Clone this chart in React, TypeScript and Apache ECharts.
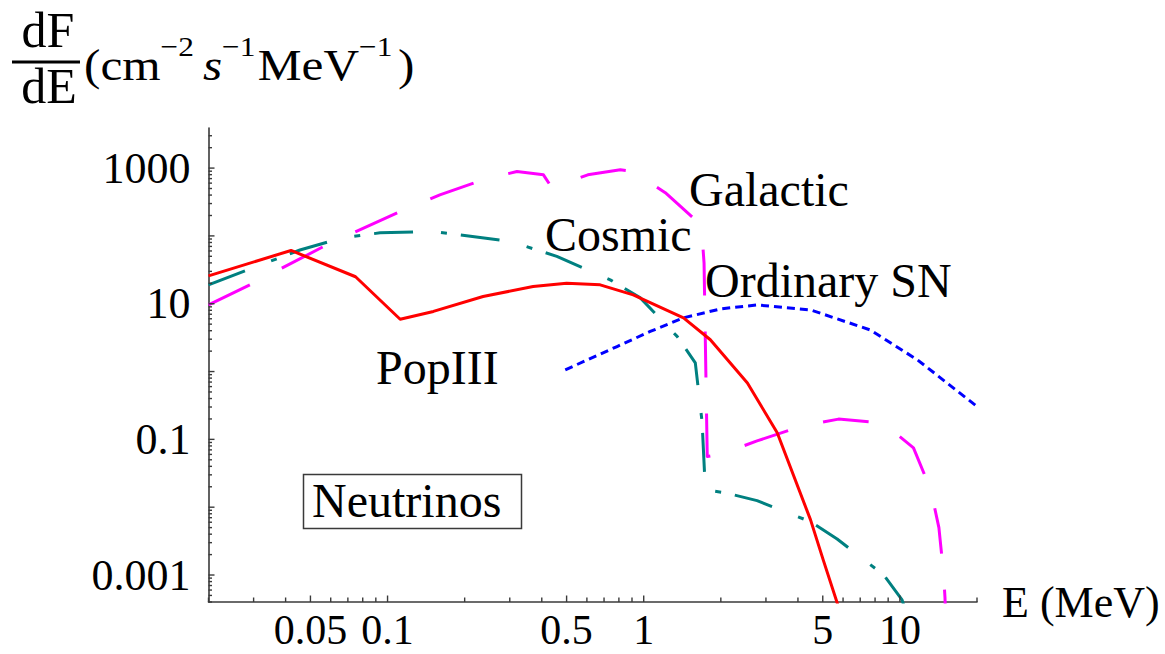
import React, { useEffect, useRef } from "react";
import * as echarts from "echarts";

const SERIF = '"Liberation Serif", "Times New Roman", "DejaVu Serif", serif';
const AXIS_COLOR = "#3a3a3a";

// Axis ranges: energy in MeV, flux in cm^-2 s^-1 MeV^-1
const X_MIN = 0.02;
const X_MAX = 20;
const Y_MIN = 4e-4;
const Y_MAX = 3900;

// Labelled tick positions
const xLabelValues = [0.05, 0.1, 0.5, 1, 5, 10];
const yLabelValues = [0.001, 0.1, 10, 1000];

// PopIII neutrino spectrum
const popIIIEnergy = [0.02, 0.042, 0.075, 0.112, 0.151, 0.236, 0.37, 0.5, 0.676, 0.91, 1.43, 1.82, 2.54, 3.32, 4.48, 5.02, 5.69, 5.8];
const popIIIFlux = [25.8, 61, 25, 5.9, 7.7, 12.8, 17.9, 20.1, 19, 13.5, 6.2, 2.94, 0.68, 0.125, 0.0065, 0.00167, 0.00039, 0.0003];

// Cosmic background
const cosmicEnergy = [0.02, 0.0455, 0.067, 0.0935, 0.151, 0.301, 0.458, 0.74, 0.97, 1.35, 1.59, 1.69, 1.74, 2.08, 2.77, 4.48, 5.69, 8.65, 10.2, 10.5];
const cosmicFlux = [19, 62, 94, 111, 116, 83, 50, 22.5, 12.2, 3.3, 1.34, 0.18, 0.018, 0.0163, 0.0125, 0.0061, 0.0034, 0.001, 0.00043, 0.0003];

// Galactic component
const galacticEnergy = [0.02, 0.029, 0.039, 0.058, 0.112, 0.16, 0.236, 0.32, 0.406, 0.439, 0.605, 0.81, 0.91, 1.214, 1.62, 1.69, 1.72, 1.77, 2.02, 2.77, 4.09, 5.76, 8.63, 11.3, 13.2, 14.2, 14.8, 15.0, 15.05];
const galacticFlux = [9.6, 19, 34, 74, 229, 403, 672, 891, 796, 507, 796, 944, 891, 433, 163, 100, 40, 0.056, 0.061, 0.095, 0.155, 0.199, 0.173, 0.075, 0.018, 0.005, 0.00107, 0.00046, 0.0003];

// Ordinary supernova neutrinos
const ordinarySNEnergy = [0.494, 0.787, 1.06, 1.43, 2.0, 2.77, 4.48, 7.67, 11.7, 19.7];
const ordinarySNFlux = [1.06, 2.34, 3.9, 6.2, 8.4, 9.6, 8.1, 4.1, 1.49, 0.32];

const zip = (xs: number[], ys: number[]) => xs.map((x, i) => [x, ys[i]]);

const fmt = (v: number) => String(Number(Number(v).toPrecision(6)));

const isLabelled = (v: number, list: number[]) =>
  list.some((l) => Math.abs(l - v) / l < 1e-6);

// Log-axis ticks at k * 10^n
const xTickData: number[][] = [];
for (let e = -2; e <= 1; e++) {
  for (let k = 1; k <= 9; k++) {
    const v = Number((k * Math.pow(10, e)).toPrecision(6));
    if (v >= X_MIN * 0.999 && v <= X_MAX * 1.001) {
      xTickData.push([v, Y_MIN, k === 1 || isLabelled(v, xLabelValues) ? 6.5 : 4.5]);
    }
  }
}
const yTickData: number[][] = [];
for (let e = -4; e <= 3; e++) {
  for (let k = 1; k <= 9; k++) {
    const v = Number((k * Math.pow(10, e)).toPrecision(6));
    if (v >= Y_MIN * 0.999 && v <= Y_MAX) {
      yTickData.push([X_MIN, v, k === 1 ? 6 : 3.5]);
    }
  }
}

const lineSeries = (name: string, data: number[][], color: string, dash: number[] | "solid", z: number) => ({
  type: "line",
  name,
  data,
  showSymbol: false,
  symbol: "none",
  smooth: false,
  clip: true,
  z,
  lineStyle: { color, width: 3, type: dash, cap: "butt", join: "round" },
});

const labelText = (text: string, x: number, y: number, size = 48) => ({
  type: "text",
  x,
  y,
  z: 20,
  style: {
    text,
    fontSize: size,
    fontFamily: SERIF,
    fill: "#000",
    align: "left",
    textAlign: "left",
    verticalAlign: "middle",
    textVerticalAlign: "middle",
  },
});

const option = {
  animation: false,
  backgroundColor: "#fff",
  grid: { left: 208.5, right: 188, top: 128, bottom: 52, containLabel: false, outerBoundsMode: "none" },
  xAxis: {
    type: "log",
    logBase: 10,
    min: X_MIN,
    max: X_MAX,
    axisLine: { show: true, onZero: false, lineStyle: { color: AXIS_COLOR, width: 1.6 } },
    axisTick: { show: false },
    minorTick: { show: false },
    splitLine: { show: false },
    axisLabel: {
      customValues: xLabelValues,
      formatter: (v: number) => fmt(v),
      fontSize: 42,
      lineHeight: 34,
      fontFamily: SERIF,
      color: "#000",
      margin: 10.5,
      hideOverlap: false,
    },
    name: "E (MeV)",
    nameLocation: "end",
    nameGap: 25,
    nameTextStyle: { fontSize: 44, fontFamily: SERIF, color: "#000", padding: [0, 0, 4, 0] },
  },
  yAxis: {
    type: "log",
    logBase: 10,
    min: Y_MIN,
    max: Y_MAX,
    axisLine: { show: true, onZero: false, lineStyle: { color: AXIS_COLOR, width: 1.6 } },
    axisTick: { show: false },
    minorTick: { show: false },
    splitLine: { show: false },
    axisLabel: {
      customValues: yLabelValues,
      formatter: (v: number) => fmt(v),
      fontSize: 44,
      fontFamily: SERIF,
      color: "#000",
      margin: 18,
      hideOverlap: false,
    },
  },
  series: [
    lineSeries("Galactic", zip(galacticEnergy, galacticFlux), "#ff00ff", [46, 36], 3),
    lineSeries("Cosmic", zip(cosmicEnergy, cosmicFlux), "#008080", [39, 28, 6, 14], 4),
    lineSeries("Ordinary SN", zip(ordinarySNEnergy, ordinarySNFlux), "#0000ff", [8, 5], 5),
    lineSeries("PopIII", zip(popIIIEnergy, popIIIFlux), "#ff0000", "solid", 6),
    {
      type: "custom",
      name: "xTicks",
      silent: true,
      clip: false,
      z: 10,
      data: xTickData,
      encode: { x: 0, y: 1 },
      renderItem: (_p: any, api: any) => {
        const pt = api.coord([api.value(0), Y_MIN]);
        const len = api.value(2);
        return {
          type: "line",
          shape: { x1: pt[0], y1: pt[1], x2: pt[0], y2: pt[1] - len },
          style: { stroke: AXIS_COLOR, lineWidth: 1.4 },
        };
      },
    },
    {
      type: "custom",
      name: "yTicks",
      silent: true,
      clip: false,
      z: 10,
      data: yTickData,
      encode: { x: 0, y: 1 },
      renderItem: (_p: any, api: any) => {
        const pt = api.coord([X_MIN, api.value(1)]);
        const len = api.value(2);
        return {
          type: "line",
          shape: { x1: pt[0], y1: pt[1], x2: pt[0] + len, y2: pt[1] },
          style: { stroke: AXIS_COLOR, lineWidth: 1.4 },
        };
      },
    },
  ],
  graphic: {
    elements: [
      // dF/dE fraction
      {
        type: "text",
        x: 48,
        y: 30,
        style: {
          text: "dF",
          fontSize: 50,
          fontFamily: SERIF,
          fill: "#000",
          align: "center",
          textAlign: "center",
          verticalAlign: "middle",
          textVerticalAlign: "middle",
        },
      },
      { type: "rect", shape: { x: 12, y: 60.5, width: 68, height: 3 }, style: { fill: "#000" } },
      {
        type: "text",
        x: 49,
        y: 86,
        style: {
          text: "dE",
          fontSize: 50,
          fontFamily: SERIF,
          fill: "#000",
          align: "center",
          textAlign: "center",
          verticalAlign: "middle",
          textVerticalAlign: "middle",
        },
      },
      // unit string, slightly widened like the printed typeface
      {
        type: "text",
        x: 84,
        y: 33,
        scaleX: 1.12,
        scaleY: 1,
        style: {
          text: "{m|(cm}{s|−2}{i|s}{s|−1}{m|MeV}{s|−1}{p|)}",
          fontFamily: SERIF,
          fill: "#000",
          align: "left",
          textAlign: "left",
          verticalAlign: "top",
          textVerticalAlign: "top",
          rich: {
            m: { fontSize: 44, fontFamily: SERIF, lineHeight: 54, verticalAlign: "bottom" },
            p: { fontSize: 44, fontFamily: SERIF, lineHeight: 54, verticalAlign: "bottom", padding: [0, 0, 0, 3] },
            i: { fontSize: 44, fontFamily: SERIF, fontStyle: "italic", lineHeight: 54, verticalAlign: "bottom", padding: [0, 0, 0, 6] },
            s: { fontSize: 28, fontFamily: SERIF, lineHeight: 26, verticalAlign: "top", padding: [0, 2, 0, 0] },
          },
        },
      },
      labelText("Galactic", 689, 189),
      labelText("Cosmic", 545, 234),
      labelText("Ordinary SN", 705, 280.5),
      labelText("PopIII", 376, 367),
      labelText("Neutrinos", 312, 500.5),
      {
        type: "rect",
        shape: { x: 303.5, y: 474.5, width: 218, height: 54 },
        style: { fill: "none", stroke: AXIS_COLOR, lineWidth: 1.5 },
        z: 20,
      },
    ],
  },
};

export default function App() {
  const ref = useRef<HTMLDivElement>(null);
  useEffect(() => {
    document.body.style.margin = "0";
    const chart = echarts.init(ref.current as HTMLDivElement, undefined, { renderer: "svg" });
    chart.setOption(option as any);
    return () => chart.dispose();
  }, []);
  return <div ref={ref} style={{ width: 1165, height: 654, background: "#fff" }} />;
}
